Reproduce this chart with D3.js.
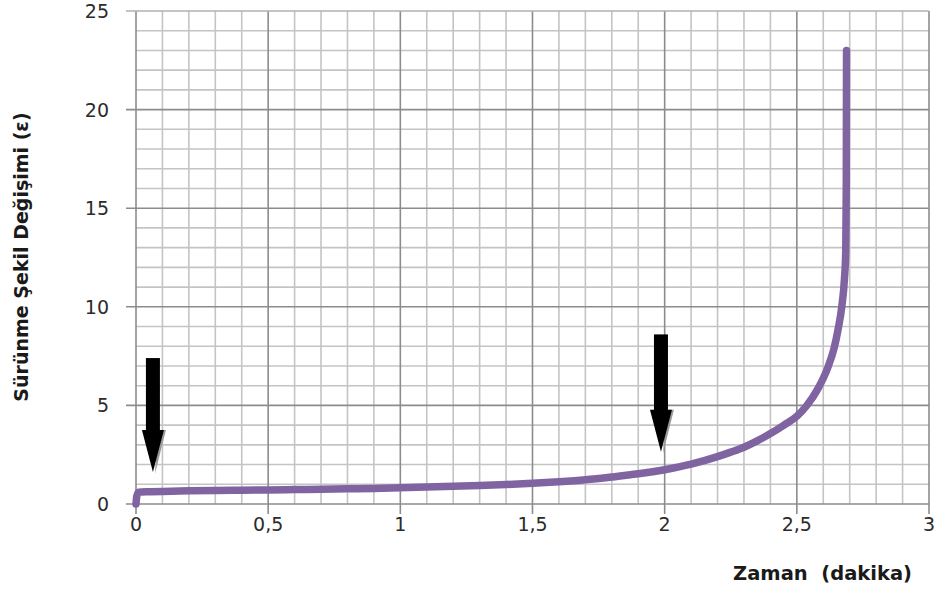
<!DOCTYPE html>
<html><head><meta charset="utf-8">
<script src="https://cdn.jsdelivr.net/npm/d3@7"></script>
<style>body{margin:0;background:#fff}svg{display:block}</style>
</head><body>
<svg id="c" width="935" height="589"></svg>
<script>
const timeMin = [0,0.003,0.01,0.05,0.1,0.2,0.3,0.4,0.5,0.6,0.7,0.8,0.9,1.0,1.1,1.2,1.3,1.4,1.5,1.6,1.7,1.8,1.9,2.0,2.1,2.2,2.25,2.3,2.35,2.4,2.45,2.5,2.537,2.58,2.618,2.64,2.656,2.67,2.68,2.685,2.687,2.688];
const strain  = [0,0.4,0.6,0.62,0.64,0.67,0.69,0.7,0.71,0.73,0.75,0.77,0.79,0.82,0.86,0.9,0.94,0.99,1.05,1.13,1.23,1.37,1.53,1.74,2.02,2.4,2.63,2.88,3.2,3.57,3.99,4.45,4.98,5.85,6.95,7.85,8.85,10.0,11.4,12.8,16,23];
const xTicks = [0,0.5,1,1.5,2,2.5,3];
const yTicks = [0,5,10,15,20,25];
const arrowX = [0.064,1.986];
const arrowTip = [1.62,2.65];
const arrowTop = [7.4,8.6];
const xTitle = "Zaman  (dakika)";
const yTitle = "Sürünme Şekil Değişimi (ε)";

const svg = d3.select("#c");
const L=136, R=929, T=11, B=504;
const x = d3.scaleLinear().domain([0,3]).range([L,R]);
const y = d3.scaleLinear().domain([0,25]).range([B,T]);
const fmt = d => String(d).replace(".", ",");

const g = svg.append("g");
// minor grid
g.selectAll(".vx").data(d3.range(0,31).map(i=>i/10).filter((d,i)=>i%5)).join("line")
  .attr("x1",d=>x(d)).attr("x2",d=>x(d)).attr("y1",T).attr("y2",B)
  .attr("stroke","#c4c4c4").attr("stroke-width",1.6);
g.selectAll(".hy").data(d3.range(0,26).filter(d=>d%5)).join("line")
  .attr("x1",L).attr("x2",R).attr("y1",d=>y(d)).attr("y2",d=>y(d))
  .attr("stroke","#c4c4c4").attr("stroke-width",1.6);
// major grid
g.selectAll(".mx").data(xTicks).join("line")
  .attr("x1",d=>x(d)).attr("x2",d=>x(d)).attr("y1",T).attr("y2",B+10)
  .attr("stroke","#8c8c8c").attr("stroke-width",1.6);
g.selectAll(".my").data(yTicks).join("line")
  .attr("x1",L-10).attr("x2",R).attr("y1",d=>y(d)).attr("y2",d=>y(d))
  .attr("stroke",d=>d===25?"#b0b0b0":"#8c8c8c").attr("stroke-width",1.6);

// tick labels
svg.append("g").selectAll("text").data(yTicks).join("text")
  .attr("x",L-27).attr("y",d=>y(d)+7).attr("text-anchor","end")
  .attr("font-family","DejaVu Sans").attr("font-size",19).attr("fill","#2b2b2b").text(fmt);
svg.append("g").selectAll("text").data(xTicks).join("text")
  .attr("x",d=>x(d)).attr("y",B+27).attr("text-anchor","middle")
  .attr("font-family","DejaVu Sans").attr("font-size",19).attr("fill","#2b2b2b").text(fmt);

// titles
svg.append("text").attr("x",912).attr("y",580).attr("text-anchor","end")
  .style("white-space","pre")
  .attr("font-family","DejaVu Sans").attr("font-weight","bold").attr("font-size",19.5)
  .attr("fill","#1a1a1a").text(xTitle);
svg.append("text").attr("transform","translate(28,257) rotate(-90)").attr("text-anchor","middle")
  .attr("font-family","DejaVu Sans").attr("font-weight","bold").attr("font-size",19)
  .attr("fill","#1a1a1a").text(yTitle);

// curve
const pts = timeMin.map((t,i)=>[t,strain[i]]);
svg.append("path").datum(pts)
  .attr("d", d3.line().x(d=>x(d[0])).y(d=>y(d[1])).curve(d3.curveMonotoneX))
  .attr("fill","none").attr("stroke","#8064a2").attr("stroke-width",7.5)
  .attr("stroke-linecap","round").attr("stroke-linejoin","round");

// arrows
const ag = svg.append("g");
arrowX.forEach((ax,i)=>{
  const cx = x(ax), tip = y(arrowTip[i]), top = y(arrowTop[i]);
  const headTop = tip - 42;
  ag.append("path").attr("d",`M${cx+5},${headTop} L${cx+13},${headTop} L${cx+2},${tip+2} Z`).attr("fill","#9a9a9a");
  ag.append("rect").attr("x",cx-7).attr("y",top).attr("width",14).attr("height",headTop-top+1).attr("fill","#000");
  ag.append("path").attr("d",`M${cx-11},${headTop} L${cx+11},${headTop} L${cx},${tip} Z`).attr("fill","#000");
});
</script>
</body></html>
